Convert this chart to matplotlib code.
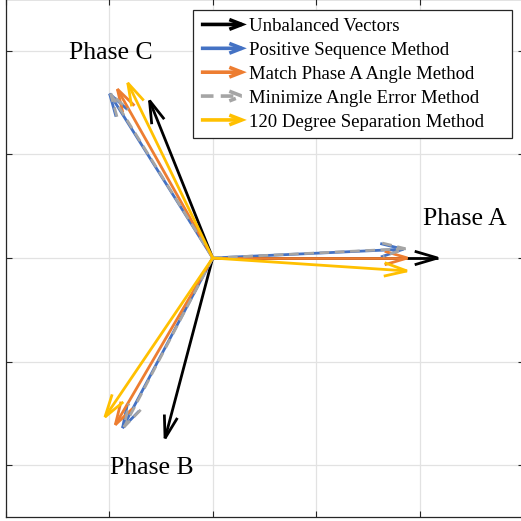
import numpy as np
import matplotlib
matplotlib.use("Agg")
import matplotlib.pyplot as plt
from matplotlib.patches import FancyArrowPatch
from matplotlib.legend_handler import HandlerPatch

# phasor tips (A, B, C) for each method
labels = ["Unbalanced Vectors", "Positive Sequence Method", "Match Phase A Angle Method",
          "Minimize Angle Error Method", "120 Degree Separation Method"]
unbal_x = [2.17, -0.46, -0.61]
unbal_y = [0.00, -1.74, 1.52]
posseq_x = [1.84, -0.87, -0.995]
posseq_y = [0.085, -1.64, 1.585]
match_x = [1.88, -0.94, -0.92]
match_y = [0.00, -1.61, 1.63]
minerr_x = [1.86, -0.855, -0.985]
minerr_y = [0.09, -1.63, 1.585]
sep120_x = [1.875, -1.04, -0.82]
sep120_y = [-0.125, -1.535, 1.69]

series_x = [unbal_x, posseq_x, match_x, minerr_x, sep120_x]
series_y = [unbal_y, posseq_y, match_y, minerr_y, sep120_y]
colors = ["black", "#4472C4", "#ED7D31", "#A5A5A5", "#FFC000"]
styles = ["-", "-", "-", (0, (3.5, 2)), "-"]

HEAD_LEN = 0.22   # arrowhead size in data units (quiver-style)
HEAD_W = 0.065

plt.rcParams["font.family"] = ["Liberation Serif", "DejaVu Serif"]


def draw_vector(ax, x, y, color, ls):
    L = np.hypot(x, y)
    ux, uy = x / L, y / L
    bx, by = x - HEAD_LEN * ux, y - HEAD_LEN * uy
    kw = dict(color=color, lw=2.0, ls=ls, solid_joinstyle="miter",
              dash_joinstyle="miter", solid_capstyle="butt", dash_capstyle="butt")
    ax.plot([0, x], [0, y], **kw)
    ax.plot([bx - HEAD_W * uy, x, bx + HEAD_W * uy],
            [by + HEAD_W * ux, y, by - HEAD_W * ux], **kw)


fig = plt.figure(figsize=(5.21, 5.21), dpi=100)
ax = fig.add_axes([5.5 / 521, 4 / 521, 518 / 521, 518 / 521])
ax.set_xlim(-2, 3)
ax.set_ylim(-2.5, 2.5)
ax.set_xticks([-2, -1, 0, 1, 2, 3])
ax.set_yticks([-2, -1, 0, 1, 2])
ax.set_xticklabels([])
ax.set_yticklabels([])
ax.tick_params(direction="in", length=4, width=0.8, colors="#262626",
               top=True, right=True)
ax.grid(True, color="#e2e2e2", lw=0.9)
ax.set_axisbelow(True)
for s in ax.spines.values():
    s.set_color("#262626")
    s.set_linewidth(0.9)

for xs, ys, c, ls in zip(series_x, series_y, colors, styles):
    for x, y in zip(xs, ys):
        draw_vector(ax, x, y, c, ls)

ax.text(2.43, 0.38, "Phase A", fontsize=18.5, ha="center", va="center")
ax.text(-0.985, 1.98, "Phase C", fontsize=18.5, ha="center", va="center")
ax.text(-0.59, -2.03, "Phase B", fontsize=18.5, ha="center", va="center")


class HandlerArrow(HandlerPatch):
    def create_artists(self, legend, orig_handle, xdescent, ydescent,
                       width, height, fontsize, trans):
        yc = height / 2 - ydescent
        p = FancyArrowPatch((-xdescent, yc), (width - xdescent, yc),
                            arrowstyle="->, head_length=9, head_width=3.5",
                            mutation_scale=1, shrinkA=0, shrinkB=0,
                            color=orig_handle.get_edgecolor(),
                            lw=2.6, ls=orig_handle.get_linestyle(),
                            joinstyle="miter", capstyle="butt")
        p.set_transform(trans)
        return [p]


proxies = [FancyArrowPatch((0, 0), (1, 0), color=c, ls=ls) for c, ls in zip(colors, styles)]
leg = fig.legend(proxies, labels, handler_map={FancyArrowPatch: HandlerArrow()},
                 loc="upper left", mode="expand",
                 bbox_to_anchor=(193 / 521, 1 - 134 / 521, 319 / 521, 124 / 521),
                 borderaxespad=0, fontsize=13.5, handlelength=2.45, handletextpad=0.1,
                 borderpad=0.42, labelspacing=0.36, fancybox=False, framealpha=1,
                 edgecolor="#262626")
leg.get_frame().set_linewidth(0.9)

fig.savefig("out.png", dpi=100)
